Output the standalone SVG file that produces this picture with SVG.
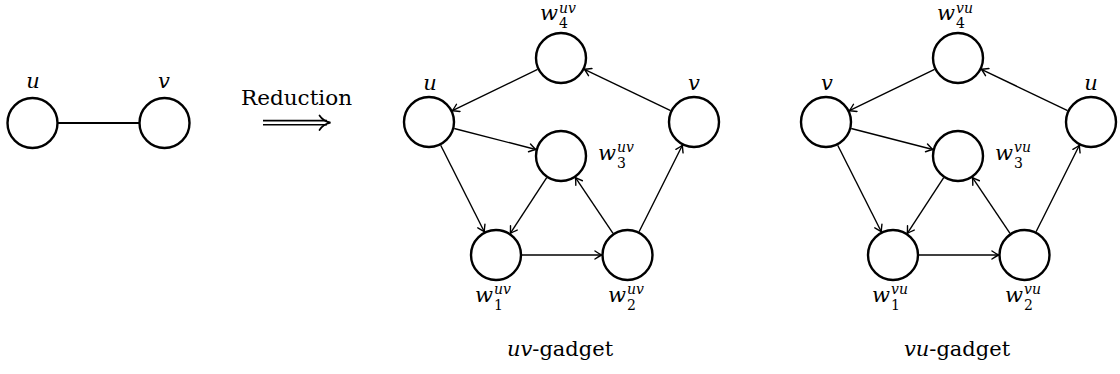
<svg xmlns="http://www.w3.org/2000/svg" width="1120" height="374" viewBox="0 0 1120 374">
<style>
.nd{fill:#fff;stroke:#000;stroke-width:2.4}
.ed{fill:none;stroke:#000;stroke-width:1.4}
text{font-family:'DejaVu Serif','Liberation Serif',serif;fill:#000}
.lbl{font-style:italic;font-size:21px}
.sc{font-style:italic;font-size:14px}
.num{font-size:14px}
.rm{font-size:21px}
</style>
<defs>
<marker id="ah" viewBox="-8 -5 10 10" refX="0" refY="0" markerWidth="10" markerHeight="10" markerUnits="userSpaceOnUse" orient="auto">
<path d="M -6.5,-4 Q -2,-1 0,0 Q -2,1 -6.5,4" fill="none" stroke="#000" stroke-width="1.4" stroke-linecap="round"/>
</marker>
</defs>
<rect width="1120" height="374" fill="#fff"/>

<!-- Left graph -->
<g id="connectors-left">
<line x1="58" y1="123" x2="139" y2="123" stroke="#000" stroke-width="2.2"/>
</g>
<g id="L-u"><circle class="nd" cx="32.5" cy="123" r="25"/><text class="lbl" x="33" y="88" text-anchor="middle">u</text></g>
<g id="L-v"><circle class="nd" cx="164.5" cy="123" r="25"/><text class="lbl" x="164" y="88" text-anchor="middle">v</text></g>

<!-- Reduction arrow -->
<g id="reduction">
<text class="rm" x="241" y="105" textLength="111" lengthAdjust="spacingAndGlyphs">Reduction</text>
<line x1="263" y1="120.6" x2="327" y2="120.6" stroke="#000" stroke-width="1.6"/>
<line x1="263" y1="124.8" x2="327" y2="124.8" stroke="#000" stroke-width="1.6"/>
<path d="M 319.5,115.5 Q 323,121 330.5,122.7 Q 323,124.5 319.5,130" fill="none" stroke="#000" stroke-width="1.7" stroke-linecap="round"/>
</g>

<!-- uv-gadget connectors -->
<g id="connectors-uv" class="ed" marker-end="url(#ah)">
<line x1="537.6" y1="69.3" x2="452.4" y2="110.7"/>
<line x1="670.6" y1="110.7" x2="584.4" y2="69.3"/>
<line x1="454.2" y1="128.5" x2="535.8" y2="149.5"/>
<line x1="440.7" y1="145.2" x2="484.3" y2="231.8"/>
<line x1="546.7" y1="177.7" x2="510.3" y2="233.3"/>
<line x1="522" y1="255" x2="601.5" y2="255"/>
<line x1="613" y1="233.4" x2="575.5" y2="177.6"/>
<line x1="639.1" y1="231.7" x2="682.4" y2="145.3"/>
</g>
<g id="uv-u"><circle class="nd" cx="429" cy="122" r="25"/><text class="lbl" x="430" y="90" text-anchor="middle">u</text></g>
<g id="uv-v"><circle class="nd" cx="694" cy="122" r="25"/><text class="lbl" x="694" y="90" text-anchor="middle">v</text></g>
<g id="uv-w4"><circle class="nd" cx="561" cy="58" r="25"/><text class="lbl" x="540" y="20">w</text><text class="sc" x="559" y="12.5">uv</text><text class="num" x="559" y="28">4</text></g>
<g id="uv-w3"><circle class="nd" cx="561" cy="156" r="25"/><text class="lbl" x="598" y="160">w</text><text class="sc" x="617" y="152">uv</text><text class="num" x="617" y="168">3</text></g>
<g id="uv-w1"><circle class="nd" cx="496" cy="255" r="25"/><text class="lbl" x="475" y="302">w</text><text class="sc" x="494" y="294">uv</text><text class="num" x="494" y="310">1</text></g>
<g id="uv-w2"><circle class="nd" cx="627.5" cy="255" r="25"/><text class="lbl" x="608" y="302">w</text><text class="sc" x="627" y="294">uv</text><text class="num" x="627" y="310">2</text></g>
<g id="uv-caption"><text class="rm" x="560" y="356" text-anchor="middle"><tspan font-style="italic">uv</tspan>-gadget</text></g>

<!-- vu-gadget connectors -->
<g id="connectors-vu" class="ed" marker-end="url(#ah)">
<line x1="934.6" y1="69.3" x2="849.4" y2="110.7"/>
<line x1="1067.6" y1="110.7" x2="981.4" y2="69.3"/>
<line x1="851.2" y1="128.5" x2="932.8" y2="149.5"/>
<line x1="837.7" y1="145.2" x2="881.3" y2="231.8"/>
<line x1="943.7" y1="177.7" x2="907.3" y2="233.3"/>
<line x1="919" y1="255" x2="998.5" y2="255"/>
<line x1="1010" y1="233.4" x2="972.5" y2="177.6"/>
<line x1="1036.1" y1="231.7" x2="1079.4" y2="145.3"/>
</g>
<g id="vu-v"><circle class="nd" cx="826" cy="122" r="25"/><text class="lbl" x="827" y="90" text-anchor="middle">v</text></g>
<g id="vu-u"><circle class="nd" cx="1091" cy="122" r="25"/><text class="lbl" x="1091" y="90" text-anchor="middle">u</text></g>
<g id="vu-w4"><circle class="nd" cx="958" cy="58" r="25"/><text class="lbl" x="937" y="20">w</text><text class="sc" x="956" y="12.5">vu</text><text class="num" x="956" y="28">4</text></g>
<g id="vu-w3"><circle class="nd" cx="958" cy="156" r="25"/><text class="lbl" x="995" y="160">w</text><text class="sc" x="1014" y="152">vu</text><text class="num" x="1014" y="168">3</text></g>
<g id="vu-w1"><circle class="nd" cx="893" cy="255" r="25"/><text class="lbl" x="872" y="302">w</text><text class="sc" x="891" y="294">vu</text><text class="num" x="891" y="310">1</text></g>
<g id="vu-w2"><circle class="nd" cx="1024.5" cy="255" r="25"/><text class="lbl" x="1005" y="302">w</text><text class="sc" x="1024" y="294">vu</text><text class="num" x="1024" y="310">2</text></g>
<g id="vu-caption"><text class="rm" x="957" y="356" text-anchor="middle"><tspan font-style="italic">vu</tspan>-gadget</text></g>
</svg>
